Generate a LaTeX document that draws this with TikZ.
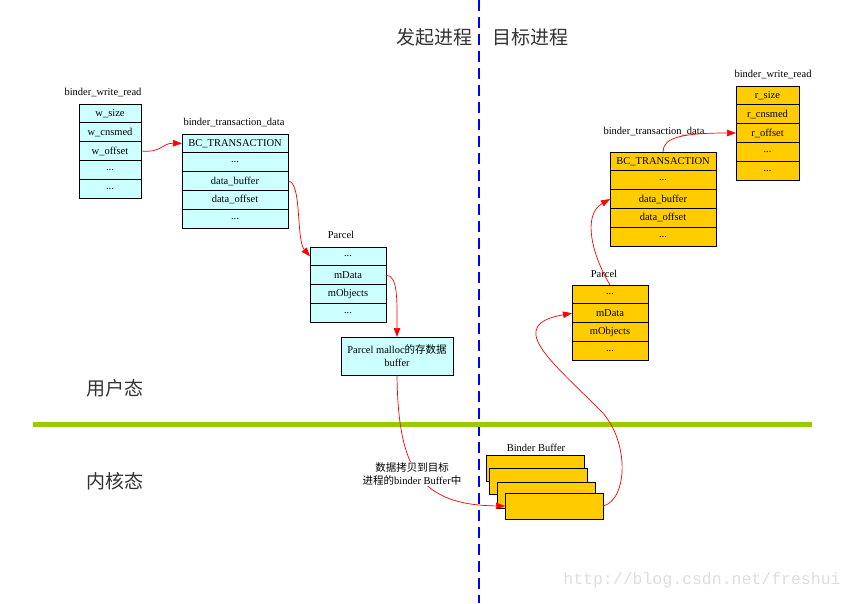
\documentclass[tikz,border=0pt]{standalone}
\usepackage{fontspec}
\setmainfont{Liberation Serif}
\newfontfamily\cjk{Noto Sans CJK SC}
\newfontfamily\urlfont{Liberation Mono}
\usepackage{tikz}
\usetikzlibrary{arrows.meta,positioning,shadows}
\definecolor{cellcyan}{HTML}{CCFFFF}
\definecolor{cellgold}{HTML}{FFCC00}
\definecolor{limeline}{HTML}{99CC00}
\tikzset{
  boxshadow/.style={drop shadow={shadow xshift=1.2pt, shadow yshift=-1.2pt, fill=black!55, opacity=1}},
  cell/.style={draw, line width=0.8pt, minimum height=18.8pt, inner sep=0pt, outer sep=0pt, boxshadow, font=\fontsize{10.5pt}{13pt}\selectfont},
  cyancell/.style={cell, fill=cellcyan, minimum width=#1},
  goldcell/.style={cell, fill=cellgold, minimum width=#1},
  tag/.style={inner sep=0pt, font=\fontsize{10.5pt}{13pt}\selectfont},
  zone/.style={inner sep=0pt, font=\cjk\fontsize{19pt}{22pt}\selectfont, text=black!80},
  bufbox/.style={draw, line width=0.8pt, fill=cellgold, minimum width=98pt, minimum height=26pt, inner sep=0pt, outer sep=0pt, boxshadow},
  redarrow/.style={-{Triangle[length=9pt,width=6.5pt]}, red, line width=0.7pt},
  procline/.style={blue, line width=1.6pt, dash pattern=on 11pt off 6pt},
  modeline/.style={limeline, line width=4.5pt}
}
\begin{document}
\begin{tikzpicture}[x=1pt,y=-1pt]
  \useasboundingbox[fill=white] (0,0) rectangle (856,603);
  \draw[procline] (479,0) -- (479,603);
  \draw[modeline] (33,424.5) -- (812,424.5);

  \node[zone] (sendside) at (434,37) {发起进程};
  \node[zone] (recvside) at (530,37) {目标进程};
  \node[zone] (usermode) at (115,388) {用户态};
  \node[zone] (kernelmode) at (115,481) {内核态};

  \node[tag] (wrLtitle) at (103,93) {binder\_write\_read};
  \node[cyancell=62pt, anchor=north west] (wrL1) at (79,104) {w\_size};
  \node[cyancell=62pt, below=0pt of wrL1] (wrL2) {w\_cnsmed};
  \node[cyancell=62pt, below=0pt of wrL2] (wrL3) {w\_offset};
  \node[cyancell=62pt, below=0pt of wrL3] (wrL4) {...};
  \node[cyancell=62pt, below=0pt of wrL4] (wrL5) {...};

  \node[tag] (tdLtitle) at (234,123) {binder\_transaction\_data};
  \node[cyancell=106pt, anchor=north west] (tdL1) at (182,134) {BC\_TRANSACTION};
  \node[cyancell=106pt, below=0pt of tdL1] (tdL2) {...};
  \node[cyancell=106pt, below=0pt of tdL2] (tdL3) {data\_buffer};
  \node[cyancell=106pt, below=0pt of tdL3] (tdL4) {data\_offset};
  \node[cyancell=106pt, below=0pt of tdL4] (tdL5) {...};

  \node[tag] (pLtitle) at (341,235) {Parcel};
  \node[cyancell=76pt, anchor=north west] (pL1) at (310,247) {...};
  \node[cyancell=76pt, below=0pt of pL1] (pL2) {mData};
  \node[cyancell=76pt, below=0pt of pL2] (pL3) {mObjects};
  \node[cyancell=76pt, below=0pt of pL3] (pL4) {...};

  \node[cell, fill=cellcyan, minimum width=112pt, minimum height=38pt, align=center, anchor=north west] (mallocbuf) at (341,337) {Parcel malloc{\cjk 的存数据}\\buffer};

  \node[tag] (bbtitle) at (536,448) {Binder Buffer};
  \node[bufbox, anchor=north west] (bb1) at (486,455) {};
  \node[bufbox, anchor=north west] (bb2) at (489,468) {};
  \node[bufbox, anchor=north west] (bb3) at (497,482) {};
  \node[bufbox, anchor=north west] (bb4) at (505,493) {};

  \node[tag] (pRtitle) at (604,274) {Parcel};
  \node[goldcell=76pt, anchor=north west] (pR1) at (572,285) {...};
  \node[goldcell=76pt, below=0pt of pR1] (pR2) {mData};
  \node[goldcell=76pt, below=0pt of pR2] (pR3) {mObjects};
  \node[goldcell=76pt, below=0pt of pR3] (pR4) {...};

  \node[tag] (tdRtitle) at (654,132) {binder\_transaction\_data};
  \node[goldcell=106pt, anchor=north west] (tdR1) at (610,152) {BC\_TRANSACTION};
  \node[goldcell=106pt, below=0pt of tdR1] (tdR2) {...};
  \node[goldcell=106pt, below=0pt of tdR2] (tdR3) {data\_buffer};
  \node[goldcell=106pt, below=0pt of tdR3] (tdR4) {data\_offset};
  \node[goldcell=106pt, below=0pt of tdR4] (tdR5) {...};

  \node[tag] (wrRtitle) at (773,75) {binder\_write\_read};
  \node[goldcell=63pt, anchor=north west] (wrR1) at (736,86) {r\_size};
  \node[goldcell=63pt, below=0pt of wrR1] (wrR2) {r\_cnsmed};
  \node[goldcell=63pt, below=0pt of wrR2] (wrR3) {r\_offset};
  \node[goldcell=63pt, below=0pt of wrR3] (wrR4) {...};
  \node[goldcell=63pt, below=0pt of wrR4] (wrR5) {...};

  \draw[redarrow] (wrL3.east) .. controls (162,153) and (162,143) .. (tdL1.west);
  \draw[redarrow] (tdL3.east) .. controls (302,181) and (296,240) .. (pL1.west);
  \draw[redarrow] (pL2.east) .. controls (398,275) and (397,300) .. (mallocbuf.north);
  \draw[redarrow] (mallocbuf.south) .. controls (398,470) and (420,505) .. (bb4.west);
  \node[tag, fill=white, align=center, inner sep=1pt] (copynote) at (412,474) {{\cjk 数据拷贝到目标}\\{\cjk 进程的}binder Buffer{\cjk 中}};
  \draw[redarrow] (bb4.east) .. controls (628,500) and (630,440) .. (600,410) .. controls (550,360) and (505,325) .. (pR2.west);
  \draw[redarrow] (pR1.north) .. controls (592,255) and (582,215) .. (tdR3.west);
  \draw[redarrow] (tdR1.north) .. controls (663,138) and (680,133) .. (wrR3.west);

  \node[inner sep=0pt, text=black!13, font=\urlfont\fontsize{16.5pt}{18pt}\selectfont] (mark) at (702,580) {http://blog.csdn.net/freshui};
\end{tikzpicture}
\end{document}
